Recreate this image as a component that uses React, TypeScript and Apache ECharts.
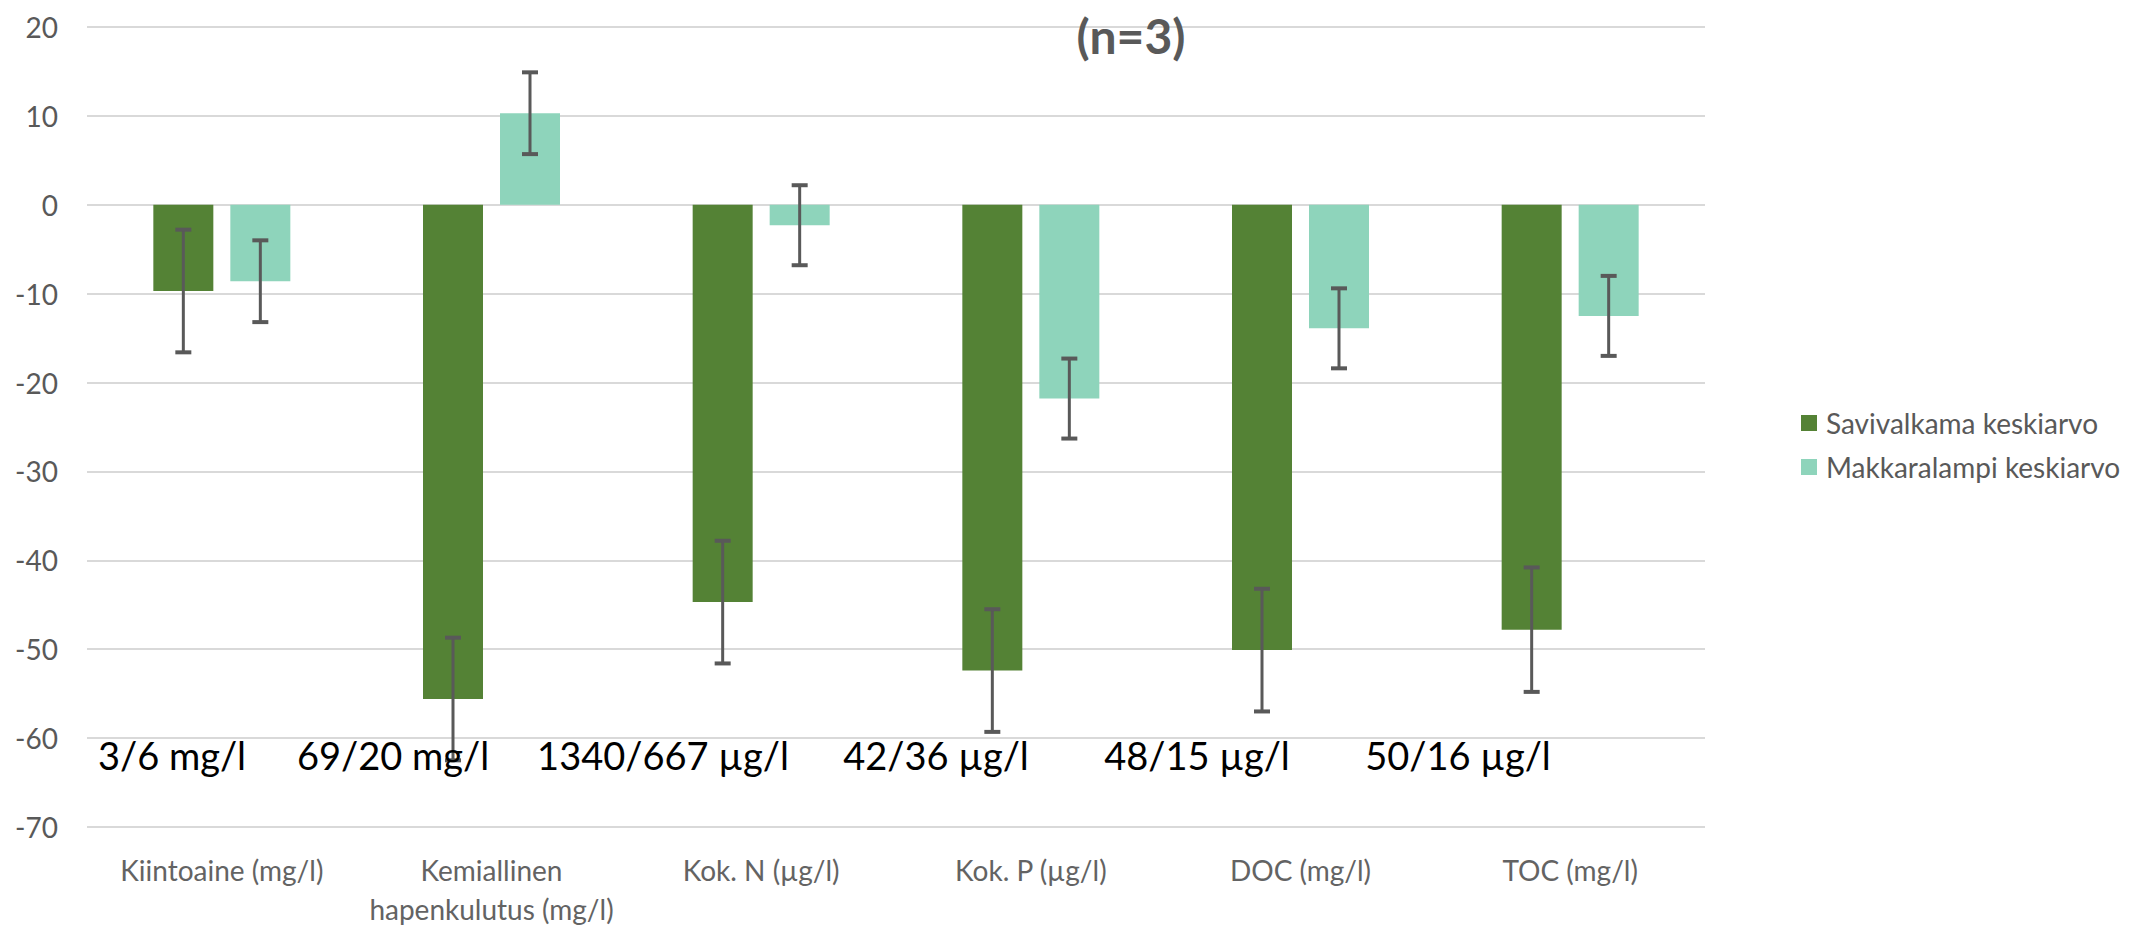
import React, { useEffect, useRef } from "react";
import * as echarts from "echarts";

const categories = [
  "Kiintoaine (mg/l)",
  "Kemiallinen\nhapenkulutus (mg/l)",
  "Kok. N (µg/l)",
  "Kok. P (µg/l)",
  "DOC (mg/l)",
  "TOC (mg/l)",
];
const seriesNames = ["Savivalkama keskiarvo", "Makkaralampi keskiarvo"];
const savivalkama = [-9.7, -55.6, -44.7, -52.4, -50.1, -47.8];
const savivalkamaErr = [6.9, 6.9, 6.9, 6.9, 6.9, 7.0];
const makkaralampi = [-8.6, 10.3, -2.3, -21.8, -13.9, -12.5];
const makkaralampiErr = [4.6, 4.6, 4.5, 4.5, 4.5, 4.5];
const concentrationLabels = [
  "3/6 mg/l",
  "69/20 mg/l",
  "1340/667 µg/l",
  "42/36 µg/l",
  "48/15 µg/l",
  "50/16 µg/l",
];
const yTicks = { min: -70, max: 20, interval: 10 };

// layout / style constants
const GREEN = "#548235";
const TEAL = "#8ED4BB";
const GREY = "#595959";
const BAR_W = 60;
const BAR_GAP = 17;
const labelCenters = [172, 393, 663, 936, 1197, 1458];
const labelY = 755;

export default function App() {
  const ref = useRef<HTMLDivElement>(null);
  useEffect(() => {
    document.body.style.margin = "0";
    const chart = echarts.init(ref.current!, null, { renderer: "svg" });
    const offset = (BAR_W + BAR_GAP) / 2;
    const errSeries = (vals: number[], errs: number[], dx: number, name: string) => ({
      type: "custom",
      name: name + " virhe",
      z: 5,
      data: vals.map((v, i) => [i, v, errs[i]]),
      encode: { x: 0, y: 1 },
      renderItem: (params: any, api: any) => {
        const i = api.value(0);
        const v = api.value(1);
        const e = api.value(2);
        const c = api.coord([i, v]);
        const top = api.coord([i, v + e])[1];
        const bot = api.coord([i, v - e])[1];
        const x = c[0] + dx;
        const st = { stroke: GREY, lineWidth: 3 };
        return {
          type: "group",
          children: [
            { type: "line", shape: { x1: x, y1: top, x2: x, y2: bot }, style: st },
            { type: "line", shape: { x1: x - 8, y1: top, x2: x + 8, y2: top }, style: { stroke: GREY, lineWidth: 4 } },
            { type: "line", shape: { x1: x - 8, y1: bot, x2: x + 8, y2: bot }, style: { stroke: GREY, lineWidth: 4 } },
          ],
        };
      },
    });

    chart.setOption({
      animation: false,
      backgroundColor: "#ffffff",
      title: {
        text: "(n=3)",
        left: 1126,
        top: 6,
        textAlign: "center",
        textStyle: { fontFamily: "Lato", fontWeight: "bold", fontSize: 48, color: GREY },
      },
      legend: {
        data: seriesNames,
        orient: "vertical",
        left: 1796,
        top: 404,
        itemWidth: 16,
        itemHeight: 16,
        itemGap: 16,
        icon: "rect",
        textStyle: { fontFamily: "Lato", fontSize: 28, color: GREY, padding: [0, 0, 0, 4] },
      },
      grid: { left: 87, right: 439, top: 27, bottom: 98, containLabel: false },
      xAxis: {
        type: "category",
        data: categories,
        axisLine: { show: false },
        axisTick: { show: false },
        axisLabel: {
          interval: 0,
          margin: 23,
          fontFamily: "Lato",
          fontSize: 28,
          lineHeight: 39,
          color: "#636363",
        },
      },
      yAxis: {
        type: "value",
        min: yTicks.min,
        max: yTicks.max,
        interval: yTicks.interval,
        axisLine: { show: false },
        axisTick: { show: false },
        axisLabel: { margin: 29, fontFamily: "Lato", fontSize: 28, color: GREY },
        splitLine: { lineStyle: { color: "#D9D9D9", width: 2 } },
      },
      series: [
        {
          name: seriesNames[0],
          type: "bar",
          data: savivalkama,
          barWidth: BAR_W,
          barGap: (BAR_GAP / BAR_W) * 100 + "%",
          itemStyle: { color: GREEN },
        },
        {
          name: seriesNames[1],
          type: "bar",
          data: makkaralampi,
          barWidth: BAR_W,
          barGap: (BAR_GAP / BAR_W) * 100 + "%",
          itemStyle: { color: TEAL },
        },
        errSeries(savivalkama, savivalkamaErr, -offset, seriesNames[0]),
        errSeries(makkaralampi, makkaralampiErr, offset, seriesNames[1]),
      ],
      graphic: concentrationLabels.map((t, i) => ({
        type: "text",
        x: labelCenters[i],
        y: labelY,
        z: 10,
        style: {
          text: t,
          align: "center",
          verticalAlign: "middle",
          font: "38px Lato",
          fill: "#000000",
        },
      })),
    });
    return () => chart.dispose();
  }, []);
  return <div ref={ref} style={{ width: 2144, height: 928 }} />;
}
